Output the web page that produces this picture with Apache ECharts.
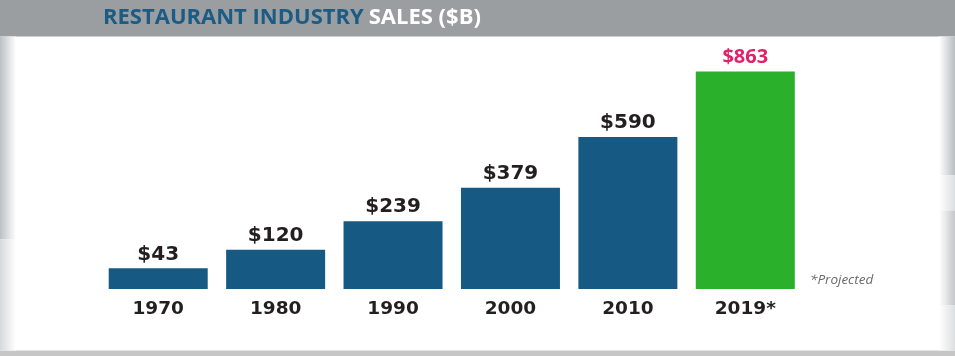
<!DOCTYPE html>
<html>
<head>
<meta charset="utf-8">
<script src="https://cdn.jsdelivr.net/npm/echarts@6/dist/echarts.min.js"></script>
<style>
html,body{margin:0;padding:0;background:#fff;}
#main{width:955px;height:356px;}
</style>
</head>
<body>
<div id="main"></div>
<script>
const categories = ['1970', '1980', '1990', '2000', '2010', '2019*'];
const sales = [43, 120, 239, 379, 590, 863];
const projected = [false, false, false, false, false, true];
const titleMain = 'RESTAURANT INDUSTRY';
const titleSub = 'SALES ($B)';
const footnote = '*Projected';

const BLUE = '#165a84';
const GREEN = '#2ab02a';
const PINK = '#e0226b';
const DARK = '#231f20';

const chart = echarts.init(document.getElementById('main'), null, {renderer: 'canvas'});

const barData = sales.map((v, i) => {
  const item = {value: v, itemStyle: {color: projected[i] ? GREEN : BLUE}};
  if (projected[i]) {
    item.label = {color: PINK, fontFamily: 'Open Sans', fontWeight: 'bold', fontSize: 20, distance: 4};
  }
  return item;
});

function sideGrad(x, y, w, h, from, to) {
  return {
    type: 'rect', silent: true, z: 0,
    shape: {x: x, y: y, width: w, height: h},
    style: {fill: new echarts.graphic.LinearGradient(0, 0, 1, 0, [
      {offset: 0, color: from}, {offset: 1, color: to}
    ])}
  };
}

chart.setOption({
  backgroundColor: '#ffffff',
  animation: false,
  title: {
    text: '{a|' + titleMain + '} {b|' + titleSub + '}',
    left: 103,
    top: 6,
    padding: 0,
    textStyle: {
      rich: {
        a: {color: '#1b5b84', fontFamily: 'Open Sans', fontWeight: 'bold', fontSize: 22, lineHeight: 24},
        b: {color: '#ffffff', fontFamily: 'Open Sans', fontWeight: 'bold', fontSize: 22, lineHeight: 24}
      }
    },
    z: 10
  },
  graphic: [
    {type: 'rect', silent: true, z: 0, shape: {x: 0, y: 0, width: 955, height: 36.5}, style: {fill: '#9a9ea1'}},
    {type: 'rect', silent: true, z: 0, shape: {x: 0, y: 350.5, width: 955, height: 6}, style: {fill: '#c6c6c6'}},
    sideGrad(0, 36.5, 16, 203, '#bcc0c3', '#ffffff'),
    sideGrad(0, 239.5, 16, 111, '#d6d9db', '#ffffff'),
    sideGrad(939, 36.5, 16, 139, '#ffffff', '#b8bdc0'),
    sideGrad(939, 175.5, 16, 35, '#ffffff', '#dcdfe1'),
    sideGrad(939, 210.5, 16, 95, '#ffffff', '#c3c7ca'),
    sideGrad(939, 305.5, 16, 45, '#ffffff', '#dcdfe1'),
    {
      type: 'text', silent: true, z: 5,
      left: 810, top: 273,
      style: {text: footnote, fill: '#6a6a6a', font: 'italic 13.5px "Open Sans"'}
    }
  ],
  grid: {left: 99.5, right: 151, top: 62.5, bottom: 67, containLabel: false},
  xAxis: {
    type: 'category',
    data: categories,
    axisLine: {show: false, onZero: false},
    axisTick: {show: false},
    splitLine: {show: false},
    axisLabel: {
      color: DARK, fontFamily: 'DejaVu Sans', fontWeight: 'bold', fontSize: 18.5, margin: 11
    }
  },
  yAxis: {
    type: 'value',
    min: -43,
    max: 900,
    startValue: -43,
    show: false,
    splitLine: {show: false}
  },
  series: [{
    type: 'bar',
    data: barData,
    barWidth: 99,
    label: {
      show: true,
      position: 'top',
      distance: 4,
      color: DARK,
      fontFamily: 'DejaVu Sans',
      fontWeight: 'bold',
      fontSize: 20,
      formatter: p => '$' + p.value
    }
  }]
});
</script>
</body>
</html>
